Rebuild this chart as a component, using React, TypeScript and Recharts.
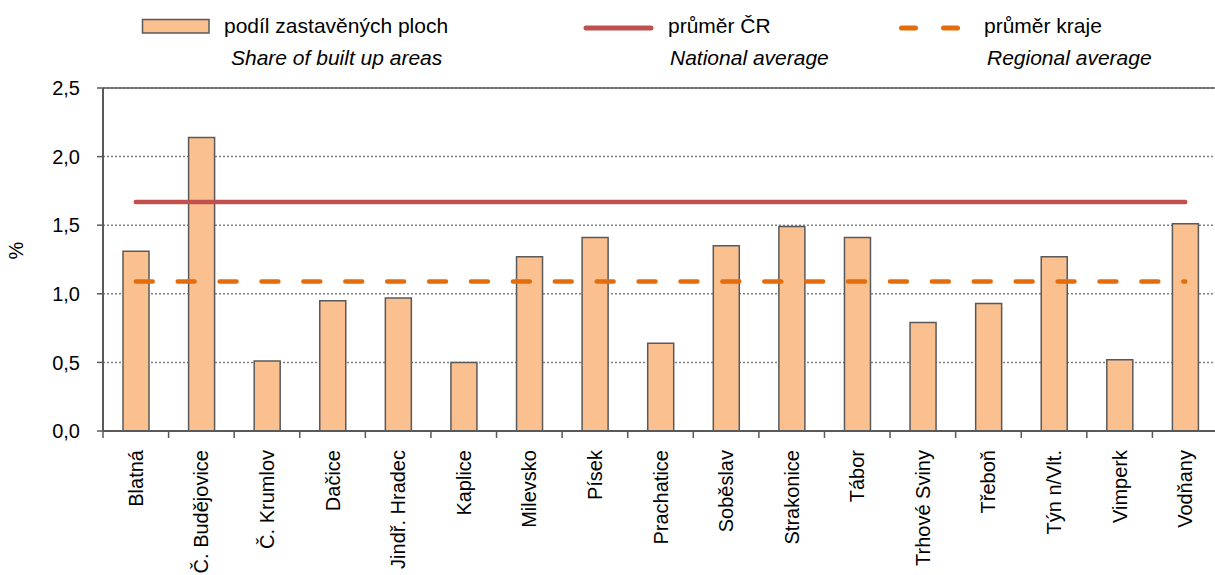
import React from 'react'
import {
  ComposedChart,
  Bar,
  Line,
  XAxis,
  YAxis,
  CartesianGrid,
  ReferenceLine,
} from 'recharts'

const districts = [
  'Blatná',
  'Č. Budějovice',
  'Č. Krumlov',
  'Dačice',
  'Jindř. Hradec',
  'Kaplice',
  'Milevsko',
  'Písek',
  'Prachatice',
  'Soběslav',
  'Strakonice',
  'Tábor',
  'Trhové Sviny',
  'Třeboň',
  'Týn n/Vlt.',
  'Vimperk',
  'Vodňany',
]

const builtUpShare = [
  1.31, 2.14, 0.51, 0.95, 0.97, 0.5, 1.27, 1.41, 0.64, 1.35, 1.49, 1.41, 0.79,
  0.93, 1.27, 0.52, 1.51,
]

const nationalAverage = 1.67
const regionalAverage = 1.09

const yTicks = [0, 0.5, 1, 1.5, 2, 2.5]

const FONT = '"Liberation Sans", Arial, sans-serif'
const BAR_FILL = '#FAC090'
const BAR_STROKE = '#595959'
const NATIONAL_COLOR = '#C0504D'
const REGIONAL_COLOR = '#E46C0A'

const CHART_W = 1218
const CHART_H = 575
const PLOT_LEFT = 103
const BAND = (CHART_W - PLOT_LEFT) / districts.length

const chartData = districts.map((name, i) => ({
  name,
  share: builtUpShare[i],
  national: nationalAverage,
  regional: regionalAverage,
}))

function CategoryTick(props: any) {
  const { x, y, payload } = props
  const half = BAND / 2
  return (
    <g>
      <line x1={x - half} y1={y} x2={x - half} y2={y + 7} stroke={BAR_STROKE} strokeWidth={1.5} />
      <text
        transform={`translate(${x},${y + 19}) rotate(-90)`}
        textAnchor="end"
        dy="0.35em"
        fontSize={20}
        fontFamily={FONT}
        fill="#000"
      >
        {payload.value}
      </text>
    </g>
  )
}

function LegendBox() {
  const text = { fontFamily: FONT, fontSize: 21, fill: '#000' }
  return (
    <svg
      width={1215}
      height={80}
      style={{ position: 'absolute', left: 0, top: 0 }}
    >
      <rect x={142.5} y={19.5} width={66.5} height={13.5} fill={BAR_FILL} stroke={BAR_STROKE} strokeWidth={1.5} />
      <text x={224} y={33} {...text}>podíl zastavěných ploch</text>
      <text x={231} y={65} {...text} fontStyle="italic">Share of built up areas</text>

      <line x1={586} y1={28} x2={651} y2={28} stroke={NATIONAL_COLOR} strokeWidth={5} strokeLinecap="round" />
      <text x={668} y={33} {...text}>průměr ČR</text>
      <text x={670} y={65} {...text} fontStyle="italic">National average</text>

      <line x1={901.5} y1={28} x2={961} y2={28} stroke={REGIONAL_COLOR} strokeWidth={5} strokeLinecap="round" strokeDasharray="14 28" />
      <text x={984} y={33} {...text}>průměr kraje</text>
      <text x={987} y={65} {...text} fontStyle="italic">Regional average</text>
    </svg>
  )
}

export default function App() {
  return (
    <div
      style={{
        position: 'absolute',
        left: 0,
        top: 0,
        width: 1215,
        height: CHART_H,
        overflow: 'hidden',
        background: '#fff',
      }}
    >
      <ComposedChart
        width={CHART_W}
        height={CHART_H}
        data={chartData}
        margin={{ top: 88, right: 0, bottom: 0, left: 0 }}
      >
        <CartesianGrid
          vertical={false}
          stroke="#808080"
          strokeWidth={1.5}
          strokeDasharray="2 2"
        />
        <ReferenceLine y={2.5} stroke={BAR_STROKE} strokeWidth={1.5} />
        <XAxis
          dataKey="name"
          interval={0}
          height={144}
          tickLine={false}
          tickSize={0}
          tickMargin={0}
          axisLine={{ stroke: BAR_STROKE, strokeWidth: 2 }}
          tick={<CategoryTick />}
        />
        <YAxis
          width={PLOT_LEFT}
          domain={[0, 2.5]}
          ticks={yTicks}
          tickSize={6}
          tickMargin={17}
          tickFormatter={(v: number) => v.toFixed(1).replace('.', ',')}
          tick={{ fontSize: 20, fontFamily: FONT, fill: '#000' }}
          tickLine={{ stroke: BAR_STROKE, strokeWidth: 1.5 }}
          axisLine={{ stroke: BAR_STROKE, strokeWidth: 2 }}
          label={{
            value: '%',
            angle: -90,
            position: 'insideLeft',
            dx: 11,
            style: { fontSize: 20, fontFamily: FONT, fill: '#000' },
          }}
        />
        <Bar
          dataKey="share"
          barSize={26}
          fill={BAR_FILL}
          stroke={BAR_STROKE}
          strokeWidth={1.5}
          isAnimationActive={false}
        />
        <Line
          dataKey="national"
          stroke={NATIONAL_COLOR}
          strokeWidth={4.5}
          strokeLinecap="round"
          dot={false}
          activeDot={false}
          isAnimationActive={false}
        />
        <Line
          dataKey="regional"
          stroke={REGIONAL_COLOR}
          strokeWidth={4.5}
          strokeLinecap="round"
          strokeDasharray="16.9 25"
          dot={false}
          activeDot={false}
          isAnimationActive={false}
        />
      </ComposedChart>
      <LegendBox />
    </div>
  )
}
